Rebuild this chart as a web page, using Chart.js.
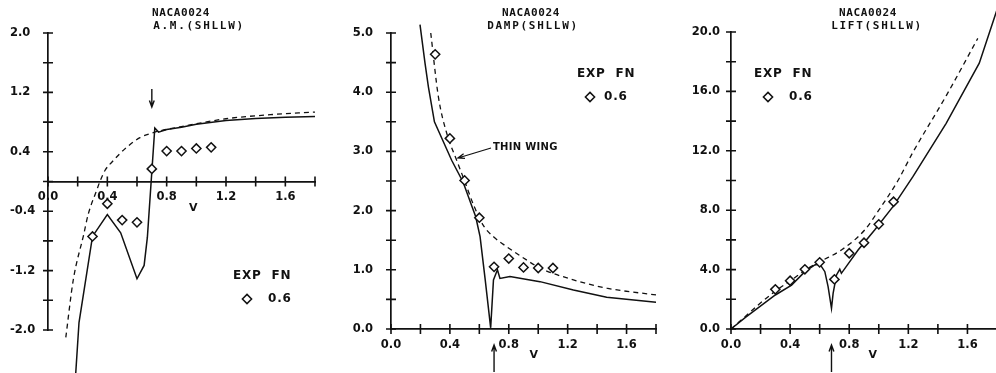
<!DOCTYPE html>
<html>
<head>
<meta charset="utf-8">
<script src="https://cdn.jsdelivr.net/npm/chart.js@4.4.1/dist/chart.umd.min.js"></script>
<style>
    html, body { margin: 0; padding: 0; background: #fff; overflow: hidden; width: 996px; height: 373px; }
    canvas { position: absolute; top: 0; }
</style>
</head>
<body>
<canvas id="amChart" width="330" height="373" style="left:0"></canvas>
<canvas id="dampChart" width="336" height="373" style="left:330px"></canvas>
<canvas id="liftChart" width="340" height="373" style="left:666px"></canvas>
<script>
// experiment (FN 0.6), same speeds on all three panels
const expV = [0.3, 0.4, 0.5, 0.6, 0.7, 0.8, 0.9, 1.0, 1.1];
const amExp = [-0.74, -0.30, -0.52, -0.55, 0.17, 0.41, 0.41, 0.445, 0.46];
const dampExp = [4.64, 3.22, 2.51, 1.88, 1.05, 1.19, 1.04, 1.03, 1.03];
const liftExp = [2.67, 3.25, 4.02, 4.49, 3.34, 5.10, 5.81, 7.05, 8.57];

// A.M. - solid (SHLLW) and dashed (thin wing)
const amSolidV = [0.187, 0.209, 0.30, 0.40, 0.49, 0.60, 0.648, 0.67, 0.72, 0.745, 0.80, 0.90, 1.0, 1.2, 1.4, 1.6, 1.8];
const amSolid = [-2.58, -1.9, -0.74, -0.445, -0.69, -1.31, -1.13, -0.75, 0.72, 0.665, 0.70, 0.73, 0.77, 0.82, 0.85, 0.865, 0.875];
const amThinV = [0.12, 0.17, 0.24, 0.272, 0.328, 0.35, 0.384, 0.43, 0.53, 0.62, 0.72, 0.89, 1.2, 1.5, 1.8];
const amThin = [-2.1, -1.33, -0.72, -0.435, -0.12, 0.0, 0.148, 0.26, 0.46, 0.59, 0.664, 0.735, 0.845, 0.90, 0.935];

// DAMP
const dampSolidV = [0.197, 0.231, 0.254, 0.295, 0.412, 0.49, 0.55, 0.575, 0.605, 0.64, 0.677, 0.696, 0.723, 0.74, 0.808, 1.012, 1.239, 1.465, 1.8];
const dampSolid = [5.14, 4.49, 4.09, 3.50, 2.85, 2.48, 2.07, 1.9, 1.56, 0.83, 0.02, 0.83, 1.0, 0.855, 0.885, 0.80, 0.66, 0.535, 0.45];
const dampThinV = [0.27, 0.322, 0.378, 0.446, 0.5, 0.56, 0.627, 0.7, 0.786, 0.9, 1.012, 1.239, 1.465, 1.8];
const dampThin = [5.0, 3.92, 3.31, 2.85, 2.5, 2.1, 1.75, 1.55, 1.39, 1.2, 1.03, 0.83, 0.69, 0.575];

// LIFT
const liftSolidV = [0, 0.1, 0.3, 0.41, 0.5, 0.567, 0.6, 0.635, 0.657, 0.68, 0.691, 0.714, 0.736, 0.747, 0.86, 0.972, 1.096, 1.231, 1.456, 1.68, 1.8];
const liftSolid = [0, 0.8, 2.29, 2.96, 3.86, 4.31, 4.38, 3.86, 2.85, 1.39, 2.40, 3.64, 4.02, 3.75, 5.32, 6.67, 8.24, 10.26, 13.85, 17.9, 21.5];
const liftThinV = [0, 0.095, 0.184, 0.3, 0.41, 0.5, 0.601, 0.747, 0.905, 1.0, 1.13, 1.231, 1.456, 1.67];
const liftThin = [0, 0.83, 1.62, 2.55, 3.30, 3.95, 4.53, 5.32, 6.67, 8.0, 10.0, 11.9, 15.7, 19.57];

// tick labels
const vTicks = ['0.0', '0.4', '0.8', '1.2', '1.6'];
const amTicks = ['2.0', '1.2', '0.4', '-0.4', '-1.2', '-2.0'];
const dampTicks = ['0.0', '1.0', '2.0', '3.0', '4.0', '5.0'];
const liftTicks = ['0.0', '4.0', '8.0', '12.0', '16.0', '20.0'];

const ink = '#111';
const fontName = '"DejaVu Sans", sans-serif';
const monoName = '"DejaVu Sans Mono", monospace';

const pts = (xs, ys) => xs.map((v, i) => ({ x: v, y: ys[i] }));
const labelFrom = labels => value => labels.find(l => Math.abs(parseFloat(l) - value) < 1e-6) || '';

function arrow(ctx, x1, y1, x2, y2) {
    // line from (x1,y1) with the head at (x2,y2)
    const a = Math.atan2(y2 - y1, x2 - x1);
    ctx.beginPath();
    ctx.moveTo(x1, y1);
    ctx.lineTo(x2, y2);
    ctx.moveTo(x2 - 7 * Math.cos(a - 0.35), y2 - 7 * Math.sin(a - 0.35));
    ctx.lineTo(x2, y2);
    ctx.lineTo(x2 - 7 * Math.cos(a + 0.35), y2 - 7 * Math.sin(a + 0.35));
    ctx.stroke();
}

// tick marks through the axes, titles, legend and the arrows
const decor = {
    id: 'decor',
    afterDraw(chart, args, opts) {
        const ctx = chart.ctx;
        const xs = chart.scales.x, ys = chart.scales.y;
        const x0 = xs.getPixelForValue(0), y0 = ys.getPixelForValue(0);
        ctx.save();
        ctx.strokeStyle = ink;
        ctx.fillStyle = ink;
        ctx.lineWidth = 1.6;
        ctx.beginPath();
        xs.ticks.forEach(t => {
            const px = xs.getPixelForValue(t.value);
            ctx.moveTo(px, y0 - 5);
            ctx.lineTo(px, y0 + 5);
        });
        ys.ticks.forEach(t => {
            const py = ys.getPixelForValue(t.value);
            ctx.moveTo(x0 - 5, py);
            ctx.lineTo(x0 + 5, py);
        });
        ctx.stroke();

        ctx.textAlign = 'center';
        ctx.textBaseline = 'middle';
        ctx.font = 'bold 11px ' + monoName;
        ctx.letterSpacing = '0.6px';
        ctx.fillText(opts.title[0], opts.titleX[0], 13);
        ctx.letterSpacing = '1.7px';
        ctx.fillText(opts.title[1], opts.titleX[1] + 1, 26);

        // "V" under the axis
        ctx.letterSpacing = '0px';
        ctx.font = 'bold 11px ' + fontName;
        ctx.fillText('V', xs.getPixelForValue(opts.vLabel[0]), y0 + opts.vLabel[1]);

        // legend
        const lg = opts.legend;
        ctx.textAlign = 'left';
        ctx.font = 'bold 12px ' + fontName;
        ctx.letterSpacing = '0.8px';
        ctx.fillText('EXP  FN', lg.x, lg.y);
        ctx.fillText('0.6', lg.x + lg.textDx, lg.y + 23);
        ctx.lineWidth = 1.5;
        const cx = lg.x + lg.markDx, cy = lg.y + 23, r = 4.6;
        ctx.beginPath();
        ctx.moveTo(cx, cy - r);
        ctx.lineTo(cx + r, cy);
        ctx.lineTo(cx, cy + r);
        ctx.lineTo(cx - r, cy);
        ctx.closePath();
        ctx.stroke();

        // arrows marking V = 0.7
        ctx.lineWidth = 1.4;
        const ax = xs.getPixelForValue(opts.arrowV);
        if (opts.arrowDown) {
            arrow(ctx, ax, 89, ax, 107);
        } else {
            arrow(ctx, ax, 372, ax, 345);
        }

        if (opts.thinWing) {
            ctx.letterSpacing = '0.3px';
            ctx.font = 'bold 10px ' + fontName;
            ctx.fillText('THIN WING', 163, 147);
            ctx.lineWidth = 1.3;
            arrow(ctx, 161, 148, 128, 158);
        }
        ctx.restore();
    }
};

function makeChart(id, cfg) {
    const tickFont = { family: fontName, size: 11.5, weight: 'bold' };
    const config = {
        type: 'scatter',
        data: {
            datasets: [
                {
                    label: 'EXP FN 0.6',
                    data: pts(expV, cfg.exp),
                    pointStyle: 'rectRot',
                    pointRadius: 4.6,
                    pointBackgroundColor: '#fff',
                    pointBorderColor: ink,
                    pointBorderWidth: 1.5,
                    clip: false
                },
                {
                    label: 'SHLLW',
                    data: pts(cfg.solidV, cfg.solid),
                    showLine: true,
                    borderColor: ink,
                    borderWidth: 1.5,
                    pointRadius: 0,
                    tension: 0,
                    clip: false
                },
                {
                    label: 'THIN WING',
                    data: pts(cfg.thinV, cfg.thin),
                    showLine: true,
                    borderColor: ink,
                    borderWidth: 1.3,
                    borderDash: [5, 4],
                    pointRadius: 0,
                    cubicInterpolationMode: 'monotone',
                    clip: false
                }
            ]
        },
        options: {
            responsive: false,
            animation: false,
            events: [],
            layout: { padding: cfg.padding },
            plugins: {
                legend: { display: false },
                tooltip: { enabled: false },
                decor: cfg.decor
            },
            scales: {
                x: {
                    type: 'linear',
                    min: 0,
                    max: 1.8,
                    position: cfg.xPosition,
                    border: { color: ink, width: 1.7 },
                    grid: { drawOnChartArea: false, drawTicks: false },
                    afterFit: s => { s.height = 44; },
                    ticks: {
                        stepSize: 0.2,
                        autoSkip: false,
                        maxRotation: 0,
                        padding: 9,
                        color: ink,
                        font: tickFont,
                        callback: labelFrom(vTicks)
                    }
                },
                y: {
                    type: 'linear',
                    min: cfg.yMin,
                    max: cfg.yMax,
                    position: 'left',
                    border: { color: ink, width: 1.7 },
                    grid: { drawOnChartArea: false, drawTicks: false },
                    afterFit: s => { s.width = cfg.yWidth; },
                    ticks: {
                        stepSize: cfg.yStep,
                        autoSkip: false,
                        padding: cfg.yPad,
                        crossAlign: cfg.yAlign,
                        color: ink,
                        font: tickFont,
                        callback: labelFrom(cfg.yTicks)
                    }
                }
            }
        },
        plugins: [decor]
    };
    return new Chart(document.getElementById(id).getContext('2d'), config);
}

makeChart('amChart', {
    exp: amExp, solidV: amSolidV, solid: amSolid, thinV: amThinV, thin: amThin,
    yMin: -2, yMax: 2, yStep: 0.4, yTicks: amTicks,
    yWidth: 38, yPad: 10, yAlign: 'far',
    xPosition: { y: 0 },
    padding: { left: 10, top: 33, right: 15, bottom: 43 },
    decor: {
        title: ['NACA0024', 'A.M.(SHLLW)'], titleX: [181, 198],
        vLabel: [0.98, 27],
        legend: { x: 233, y: 276, markDx: 14, textDx: 35 },
        arrowV: 0.7, arrowDown: true
    }
});

makeChart('dampChart', {
    exp: dampExp, solidV: dampSolidV, solid: dampSolid, thinV: dampThinV, thin: dampThin,
    yMin: 0, yMax: 5, yStep: 0.5, yTicks: dampTicks,
    yWidth: 61, yPad: 18, yAlign: 'near',
    xPosition: 'bottom',
    padding: { left: 0, top: 33, right: 10, bottom: 0 },
    decor: {
        title: ['NACA0024', 'DAMP(SHLLW)'], titleX: [201, 202],
        vLabel: [0.97, 26],
        legend: { x: 247, y: 74, markDx: 13, textDx: 27 },
        arrowV: 0.7, arrowDown: false, thinWing: true
    }
});

makeChart('liftChart', {
    exp: liftExp, solidV: liftSolidV, solid: liftSolid, thinV: liftThinV, thin: liftThin,
    yMin: 0, yMax: 20, yStep: 2, yTicks: liftTicks,
    yWidth: 65, yPad: 11, yAlign: 'near',
    xPosition: 'bottom',
    padding: { left: 0, top: 32, right: 8, bottom: 0 },
    decor: {
        title: ['NACA0024', 'LIFT(SHLLW)'], titleX: [202, 210],
        vLabel: [0.96, 26],
        legend: { x: 88, y: 74, markDx: 14, textDx: 35 },
        arrowV: 0.68, arrowDown: false
    }
});
</script>
</body>
</html>
